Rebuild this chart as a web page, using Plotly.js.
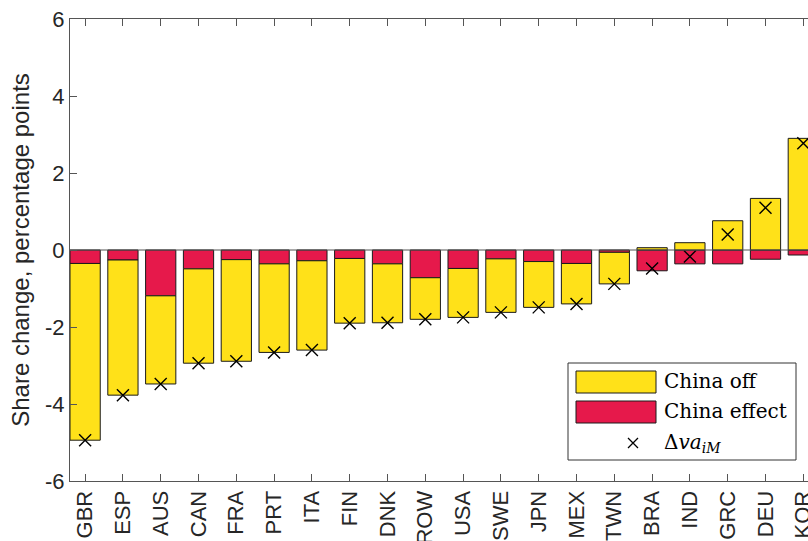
<!DOCTYPE html>
<html>
<head>
<meta charset="utf-8">
<script src="https://cdn.plot.ly/plotly-3.0.1.min.js"></script>
<style>
html, body { margin: 0; padding: 0; overflow: hidden; background: #fff; width: 808px; height: 541px; }
#chart { width: 870px; height: 541px; }
</style>
</head>
<body>
<div id="chart"></div>
<script>
// ---- data ----
const countries = ['GBR','ESP','AUS','CAN','FRA','PRT','ITA','FIN','DNK','ROW','USA','SWE','JPN','MEX','TWN','BRA','IND','GRC','DEU','KOR'];
const chinaOff = [-4.59,-3.51,-2.29,-2.45,-2.64,-2.30,-2.32,-1.68,-1.53,-1.08,-1.27,-1.39,-1.19,-1.05,-0.82,0.06,0.19,0.76,1.34,2.90];
const chinaEffect = [-0.35,-0.26,-1.19,-0.49,-0.25,-0.36,-0.28,-0.22,-0.36,-0.72,-0.48,-0.23,-0.30,-0.35,-0.06,-0.54,-0.36,-0.36,-0.24,-0.13];
const deltaVa = [-4.94,-3.77,-3.48,-2.94,-2.89,-2.66,-2.60,-1.90,-1.89,-1.80,-1.75,-1.62,-1.49,-1.40,-0.88,-0.48,-0.17,0.40,1.10,2.77];
const yTicks = [-6,-4,-2,0,2,4,6];

const YELLOW = '#FFE119';
const RED = '#E6194B';
const AXIS = '#555555';

// plot-area pixel geometry
const L = 70, T = 19, W = 790, H = 462;
const px = x => (x - L) / W;
const py = y => (T + H - y) / H;

const traces = [
  { type: 'bar', x: countries, y: chinaEffect, name: 'China effect', width: 0.8,
    marker: { color: RED, line: { color: '#1a1a1a', width: 1 } }, showlegend: false, hoverinfo: 'x+y' },
  { type: 'bar', x: countries, y: chinaOff, name: 'China off', width: 0.8,
    marker: { color: YELLOW, line: { color: '#1a1a1a', width: 1 } }, showlegend: false, hoverinfo: 'x+y' },
  { type: 'scatter', mode: 'markers', x: countries, y: deltaVa, name: 'Δva_iM',
    marker: { symbol: 'x-thin-open', size: 12, color: '#000', line: { color: '#000', width: 1.4 } },
    showlegend: false, hoverinfo: 'x+y' }
];

const legFont = { family: 'DejaVu Serif, Liberation Serif, serif', size: 20, color: '#000' };
const shapes = [
  { type: 'line', xref: 'paper', yref: 'y', x0: 0, x1: 1, y0: 0, y1: 0, layer: 'above',
    line: { color: AXIS, width: 1 } },
  // legend box
  { type: 'rect', xref: 'paper', yref: 'paper', x0: px(568), x1: px(796), y0: py(460), y1: py(363),
    layer: 'above', fillcolor: '#fff', line: { color: '#333', width: 1 } },
  { type: 'rect', xref: 'paper', yref: 'paper', x0: px(576), x1: px(656), y0: py(393), y1: py(371),
    layer: 'above', fillcolor: YELLOW, line: { color: '#1a1a1a', width: 1 } },
  { type: 'rect', xref: 'paper', yref: 'paper', x0: px(576), x1: px(656), y0: py(423), y1: py(401),
    layer: 'above', fillcolor: RED, line: { color: '#1a1a1a', width: 1 } },
  { type: 'path', xref: 'paper', yref: 'paper', layer: 'above',
    path: `M ${px(628)} ${py(438)} L ${px(638)} ${py(448)} M ${px(628)} ${py(448)} L ${px(638)} ${py(438)}`,
    line: { color: '#000', width: 1.3 } }
];
const annotations = [
  { xref: 'paper', yref: 'paper', x: px(662), y: py(381), xanchor: 'left', yanchor: 'middle',
    text: 'China off', showarrow: false, font: legFont },
  { xref: 'paper', yref: 'paper', x: px(662), y: py(411), xanchor: 'left', yanchor: 'middle',
    text: 'China effect', showarrow: false, font: legFont },
  { xref: 'paper', yref: 'paper', x: px(662), y: py(443), xanchor: 'left', yanchor: 'middle',
    text: 'Δ<i>va</i><sub><i>iM</i></sub>', showarrow: false, font: legFont }
];

const layout = {
  width: 870, height: 541,
  margin: { l: L, t: T, r: 870 - L - W, b: 541 - T - H, pad: 0 },
  paper_bgcolor: '#fff', plot_bgcolor: '#fff',
  barmode: 'relative',
  showlegend: false,
  font: { family: 'Liberation Sans, Arial, Helvetica, sans-serif', size: 22, color: '#262626' },
  xaxis: {
    type: 'category', range: [-0.4, 20.5],
    showline: true, linecolor: AXIS, linewidth: 1, mirror: 'ticks',
    ticks: 'inside', ticklen: 7, tickcolor: AXIS, tickwidth: 1,
    tickangle: -90, tickfont: { size: 22, color: '#262626' },
    showgrid: false, zeroline: false, fixedrange: true
  },
  yaxis: {
    range: [-6, 6], tickvals: yTicks, ticktext: yTicks.map(String),
    showline: true, linecolor: AXIS, linewidth: 1,
    ticks: 'inside', ticklen: 7, tickcolor: AXIS, tickwidth: 1,
    tickfont: { size: 22, color: '#262626' },
    showgrid: false, zeroline: false, fixedrange: true,
    title: { text: 'Share change, percentage points', font: { size: 24, color: '#262626' }, standoff: 8 }
  },
  shapes: shapes,
  annotations: annotations
};

Plotly.newPlot('chart', traces, layout, { displayModeBar: false, staticPlot: true });
</script>
</body>
</html>
